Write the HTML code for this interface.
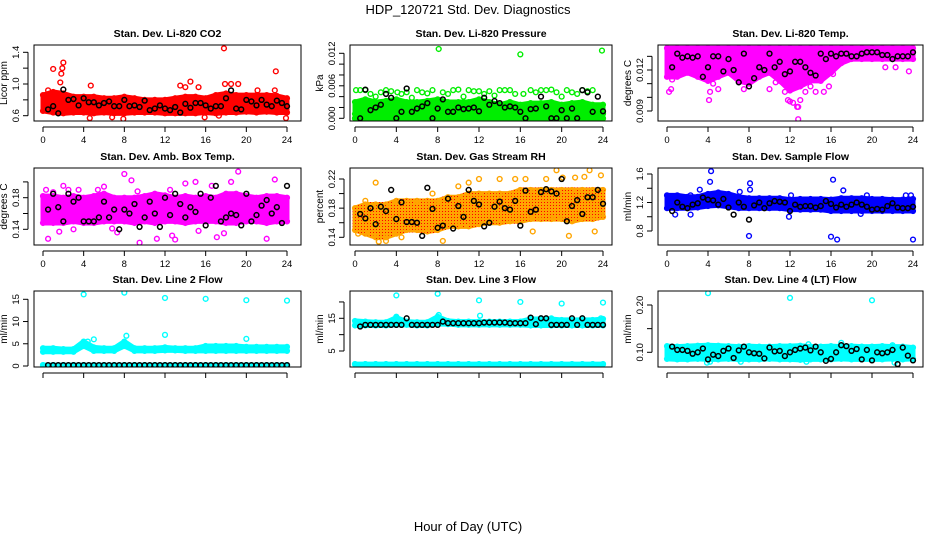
<!DOCTYPE html>
<html><head><meta charset="utf-8"><style>
html,body{margin:0;padding:0;background:#fff;}
svg{display:block;font-family:"Liberation Sans",sans-serif;}
</style></head><body>
<svg id="chart" width="936" height="540" viewBox="0 0 936 540">
<defs>
<pattern id="rhpat" width="3" height="3" patternUnits="userSpaceOnUse"><rect width="3" height="3" fill="#ffa500"/><rect x="1" y="1" width="1" height="1" fill="#ff0000"/></pattern>
</defs>
<text x="468" y="14" text-anchor="middle" font-size="13">HDP_120721  Std. Dev. Diagnostics</text>
<text x="468" y="531" text-anchor="middle" font-size="13">Hour of Day (UTC)</text>
</svg>
<script>
const blackHours=[0.5,1,1.5,2,2.5,3,3.5,4,4.5,5,5.5,6,6.5,7,7.5,8,8.5,9,9.5,10,10.5,11,11.5,12,12.5,13,13.5,14,14.5,15,15.5,16,16.5,17,17.5,18,18.5,19,19.5,20,20.5,21,21.5,22,22.5,23,23.5,24];
const bandHours=[0,1,2,3,4,5,6,7,8,9,10,11,12,13,14,15,16,17,18,19,20,21,22,23,24];
const xTicks=[0,4,8,12,16,20,24];

const co2Lo=[0.66,0.64,0.63,0.64,0.64,0.63,0.64,0.63,0.63,0.64,0.64,0.64,0.63,0.63,0.63,0.63,0.64,0.63,0.64,0.64,0.65,0.64,0.65,0.64,0.64];
const co2Hi=[0.86,0.9,0.88,0.84,0.84,0.84,0.82,0.82,0.84,0.82,0.8,0.8,0.8,0.82,0.84,0.84,0.82,0.86,0.88,0.86,0.86,0.86,0.86,0.85,0.82];
const co2OutHours=[1.0,1.7,1.8,1.9,2.0,4.7,13.5,14,14.5,15.3,17.8,17.9,18.5,19.2,22.9,7.9,23.9,15.9,4.6,6.8,17.3,0.5,21.1,22.8];
const co2OutVals=[1.19,1.02,1.13,1.2,1.27,0.98,0.98,0.96,1.03,0.96,1.45,1.0,1.0,1.0,1.16,0.56,0.57,0.58,0.57,0.58,0.6,0.92,0.92,0.92];
const co2Black=[0.68,0.72,0.63,0.93,0.8,0.81,0.73,0.82,0.77,0.77,0.73,0.76,0.78,0.72,0.72,0.8,0.72,0.73,0.71,0.79,0.67,0.69,0.73,0.69,0.67,0.71,0.64,0.75,0.7,0.76,0.76,0.73,0.69,0.72,0.72,0.82,0.92,0.69,0.68,0.8,0.78,0.73,0.8,0.74,0.72,0.79,0.76,0.72];

const presLo=[0.0008,0.0008,0.0008,0.0008,0.0008,0.0008,0.0008,0.0008,0.0008,0.0008,0.0008,0.0008,0.0008,0.0008,0.0008,0.0008,0.0008,0.0008,0.0008,0.0008,0.0008,0.0008,0.0008,0.0008,0.0008];
const presHi=[0.003,0.0035,0.003,0.0032,0.0035,0.003,0.003,0.0032,0.0035,0.003,0.003,0.003,0.0035,0.003,0.0025,0.003,0.0025,0.0028,0.0028,0.003,0.0025,0.0028,0.003,0.0025,0.0025];
const presZero=[0,0,0,0,0,0,0,0,0,0,0,0,0,0,0,0,0,0,0,0,0,0,0,0,0];
const presOutHours=[0.1,0.5,1,1.5,2,2.5,3,3.5,4.1,4.5,5,5.5,6,6.5,7,7.5,8.1,8.5,9,9.5,10,10.5,11,11.5,12,12.5,13,13.5,14,14.5,15,15.5,16,16.3,17,17.5,18,18.5,19,19.5,20,20.5,21,21.5,22,22.5,23,23.9];
const presOutVals=[0.0052,0.0052,0.0052,0.0045,0.004,0.0048,0.0052,0.005,0.0048,0.0045,0.0048,0.0038,0.0052,0.0048,0.0046,0.0052,0.0128,0.0048,0.0045,0.0052,0.0053,0.004,0.0052,0.005,0.005,0.0045,0.005,0.0042,0.0052,0.0052,0.0052,0.0045,0.0118,0.0045,0.0052,0.0048,0.0052,0.0052,0.0053,0.0048,0.004,0.0052,0.0048,0.0045,0.0052,0.005,0.0052,0.0125];
const presBlack=[0,0.0053,0.0015,0.002,0.0025,0.0045,0.0038,0,0.0012,0.0055,0.0012,0.0018,0.0022,0.0028,0,0.0018,0.0035,0.0012,0.0012,0.002,0.0017,0.0018,0.002,0.0013,0.0038,0.0025,0.0032,0.0028,0.002,0.0022,0.002,0.0012,0,0.0017,0.0018,0.004,0.0022,0,0,0.0015,0,0.0018,0,0.0052,0.0048,0.0012,0.004,0.0013];

const tempLo=[0.0115,0.0115,0.0118,0.0115,0.0112,0.0115,0.0118,0.0112,0.011,0.0115,0.0118,0.0112,0.0105,0.0108,0.0112,0.0112,0.0118,0.0125,0.0128,0.0128,0.0128,0.0128,0.0128,0.0128,0.0128];
const tempHi=[0.0136,0.0136,0.0136,0.0136,0.0136,0.0136,0.0136,0.0136,0.0136,0.0136,0.0136,0.0136,0.0136,0.0136,0.0136,0.0136,0.0136,0.0136,0.0136,0.0136,0.0136,0.0136,0.0136,0.0136,0.0136];
const tempOutHours=[0.2,0.4,0.5,4.1,4.2,4.5,5,7.5,8,10,10.6,11.5,11.8,12,12.3,12.7,12.8,13.0,12.8,13.5,14,14.5,15.3,15.8,16.2,21.3,22.3,23.6];
const tempOutVals=[0.0104,0.0106,0.0113,0.0098,0.0104,0.011,0.0106,0.0106,0.0118,0.0106,0.0111,0.0104,0.0098,0.0097,0.0096,0.0093,0.0093,0.0098,0.0084,0.0104,0.0108,0.0104,0.0104,0.0108,0.0117,0.0122,0.0122,0.0119];
const tempBlack=[0.0122,0.0132,0.0129,0.013,0.0129,0.013,0.0115,0.0122,0.013,0.013,0.0119,0.0128,0.012,0.0111,0.0132,0.0108,0.0114,0.0122,0.012,0.0132,0.0122,0.0126,0.0117,0.0119,0.0126,0.0126,0.0122,0.0118,0.0116,0.0132,0.0128,0.0132,0.013,0.0132,0.0132,0.013,0.013,0.0132,0.0133,0.0133,0.0133,0.0131,0.0131,0.0128,0.013,0.013,0.013,0.0133];

const ambLo=[0.148,0.148,0.148,0.15,0.148,0.148,0.15,0.15,0.15,0.148,0.15,0.148,0.15,0.15,0.148,0.15,0.15,0.15,0.148,0.148,0.15,0.15,0.148,0.15,0.15];
const ambHi=[0.182,0.182,0.18,0.182,0.18,0.182,0.185,0.18,0.18,0.18,0.182,0.185,0.183,0.18,0.182,0.18,0.182,0.18,0.185,0.185,0.182,0.18,0.182,0.182,0.18];
const ambOutHours=[0.3,0.5,1,1.6,2,2.5,3,3.5,4.5,5.4,6,6.8,7.3,8,8.7,9.3,9.5,10.5,11.2,12.5,12.7,13,14,15,15.3,16.6,17.1,17.8,18.5,19.2,20,22,22.8,23.5];
const ambOutVals=[0.19,0.128,0.187,0.137,0.195,0.19,0.14,0.19,0.18,0.19,0.194,0.141,0.136,0.21,0.202,0.188,0.123,0.18,0.128,0.19,0.132,0.127,0.198,0.2,0.138,0.195,0.13,0.135,0.2,0.213,0.18,0.128,0.203,0.15];
const ambBlack=[0.165,0.185,0.168,0.15,0.185,0.175,0.18,0.15,0.15,0.15,0.155,0.175,0.155,0.165,0.14,0.165,0.16,0.172,0.143,0.155,0.175,0.16,0.143,0.18,0.158,0.185,0.172,0.155,0.168,0.162,0.185,0.145,0.18,0.195,0.15,0.155,0.16,0.158,0.145,0.185,0.15,0.158,0.17,0.177,0.16,0.168,0.148,0.195];

const rhLo=[0.15,0.145,0.14,0.14,0.145,0.15,0.15,0.148,0.15,0.155,0.155,0.155,0.158,0.16,0.16,0.162,0.162,0.165,0.165,0.165,0.165,0.162,0.165,0.165,0.168];
const rhHi=[0.18,0.185,0.185,0.185,0.19,0.19,0.19,0.19,0.19,0.195,0.195,0.2,0.2,0.2,0.2,0.2,0.205,0.205,0.205,0.205,0.205,0.205,0.205,0.205,0.205];
const rhOutHours=[0.3,1,2,2.3,3,4.5,7.5,8.5,10,11,12,14,15.5,16.5,17.2,18.5,19.5,20.1,20.7,21.3,22.2,22.7,23.2,23.8];
const rhOutVals=[0.145,0.19,0.215,0.134,0.135,0.14,0.2,0.135,0.21,0.215,0.22,0.22,0.22,0.22,0.148,0.22,0.232,0.222,0.142,0.222,0.223,0.232,0.148,0.225];
const rhBlack=[0.172,0.166,0.18,0.158,0.182,0.176,0.205,0.165,0.188,0.161,0.161,0.16,0.142,0.208,0.179,0.153,0.156,0.193,0.152,0.183,0.168,0.205,0.19,0.185,0.155,0.16,0.182,0.189,0.18,0.178,0.19,0.156,0.204,0.175,0.178,0.202,0.206,0.203,0.2,0.22,0.162,0.183,0.191,0.172,0.195,0.195,0.205,0.186];

const sfLo=[1.12,1.12,1.12,1.13,1.15,1.16,1.14,1.12,1.12,1.12,1.12,1.12,1.1,1.1,1.1,1.1,1.08,1.08,1.08,1.08,1.08,1.08,1.08,1.08,1.08];
const sfHi=[1.3,1.3,1.28,1.28,1.32,1.34,1.32,1.28,1.26,1.26,1.26,1.26,1.24,1.25,1.25,1.25,1.24,1.26,1.26,1.26,1.25,1.25,1.24,1.24,1.25];
const sfOutHours=[0.8,2.3,2.3,3.2,4.2,4.3,7.1,7.7,8,8.1,8.1,11.9,12.1,16,16.2,16.6,17.2,18.9,19.5,23.3,23.8,24];
const sfOutVals=[1.03,1.03,1.3,1.38,1.49,1.64,1.35,1.25,0.73,1.47,1.38,1.0,1.3,0.72,1.52,0.68,1.37,1.04,1.3,1.3,1.3,0.68];
const sfBlack=[1.08,1.2,1.14,1.12,1.17,1.19,1.27,1.24,1.23,1.17,1.25,1.13,1.03,1.2,1.14,0.96,1.16,1.2,1.12,1.19,1.22,1.21,1.2,1.08,1.17,1.14,1.15,1.15,1.13,1.15,1.22,1.18,1.13,1.17,1.14,1.17,1.2,1.17,1.14,1.1,1.11,1.1,1.15,1.19,1.13,1.12,1.12,1.14];

const l2Lo=[3.2,3.2,3.2,3.2,4.5,3.4,3.4,3.4,4.5,3.4,3.4,3.4,3.5,3.5,3.4,3.4,3.4,3.4,3.4,3.4,3.4,3.4,3.4,3.4,3.4];
const l2Hi=[4,4,3.8,3.8,5.5,4.2,4,4,5.5,4,4,4,4.2,4,4,4,4.5,4.5,4.5,4.5,4.3,4.3,4.3,4.3,4.3];
const l2Zero=[0.2,0.2,0.2,0.2,0.2,0.2,0.2,0.2,0.2,0.2,0.2,0.2,0.2,0.2,0.2,0.2,0.2,0.2,0.2,0.2,0.2,0.2,0.2,0.2,0.2];
const l2OutHours=[4,4.4,5,8,8.2,12,12,16,20,20,24];
const l2OutVals=[16.1,5.5,6,16.5,6.8,15.3,7,15.1,14.8,6.1,14.7];
const l2Black=[0.2,0.2,0.2,0.2,0.2,0.2,0.2,0.2,0.2,0.2,0.2,0.2,0.2,0.2,0.2,0.2,0.2,0.2,0.2,0.2,0.2,0.2,0.2,0.2,0.2,0.2,0.2,0.2,0.2,0.2,0.2,0.2,0.2,0.2,0.2,0.2,0.2,0.2,0.2,0.2,0.2,0.2,0.2,0.2,0.2,0.2,0.2,0.2];

const l3Lo=[12.8,12.8,12.8,12.8,13,13,12.8,12.8,13.2,13.2,13,13,13,13,13,13,13,12.8,12.8,12.8,12.8,12.8,12.8,12.8,12.8];
const l3Hi=[14.2,14,13.8,13.8,15.2,14,13.8,13.8,15.5,14.2,14,14,14,14,14,14,14,14.8,14.8,14.8,14.5,14.5,14.5,14.5,14.8];
const l3Zero=[1,1,1,1,1,1,1,1,1,1,1,1,1,1,1,1,1,1,1,1,1,1,1,1,1];
const l3OutHours=[4,4,8,8.1,12,12.1,16,20,24,17,18,19,22,23.8];
const l3OutVals=[22,15.5,22.5,16,20.5,15.8,20,19.5,19.8,15,15,15,15,15];
const l3Black=[12.5,13,13,13,13,13,13,13,13,15,13,13,13,13,13,13,14,13.5,13.5,13.5,13.5,13.5,13.5,13.5,13.7,13.7,13.7,13.7,13.7,13.5,13.5,13.5,13.5,15.2,13.2,15,15,13,13,13,13,15,13,15,13,13,13,13];

const l4Lo=[0.086,0.085,0.085,0.086,0.085,0.085,0.086,0.085,0.085,0.085,0.086,0.085,0.085,0.084,0.085,0.085,0.085,0.086,0.085,0.085,0.085,0.085,0.086,0.085,0.086];
const l4Hi=[0.113,0.112,0.113,0.114,0.115,0.114,0.113,0.112,0.113,0.112,0.112,0.113,0.113,0.114,0.112,0.112,0.113,0.112,0.113,0.112,0.112,0.113,0.112,0.112,0.11];
const l4OutHours=[4,4.2,3.9,7.2,12,13.6,13.8,17,20,22,22.2];
const l4OutVals=[0.225,0.08,0.078,0.08,0.215,0.08,0.117,0.12,0.21,0.115,0.078];
const l4Black=[0.112,0.105,0.105,0.103,0.097,0.1,0.108,0.085,0.095,0.092,0.103,0.108,0.088,0.104,0.112,0.1,0.098,0.097,0.087,0.11,0.102,0.103,0.092,0.1,0.105,0.108,0.11,0.104,0.112,0.1,0.082,0.086,0.1,0.115,0.113,0.103,0.107,0.085,0.105,0.083,0.1,0.098,0.1,0.105,0.075,0.11,0.093,0.083];

const NS='http://www.w3.org/2000/svg';
const svg=document.getElementById('chart');
function mk(tag,attrs,parent){const e=document.createElementNS(NS,tag);for(const k in attrs)e.setAttribute(k,attrs[k]);(parent||svg).appendChild(e);return e;}

const cols=[{l:34,r:301,x0:43,x24:287},{l:350,r:612,x0:355,x24:603},{l:658,r:923,x0:667,x24:913}];
const rows=[{t:45,b:121,labels:true},{t:168,b:245,labels:true},{t:291,b:367,labels:false}];

const panels=[
 {name:'co2',title:'Stan. Dev. Li-820 CO2',ylab:'Licor ppm',c:0,r:0,color:'#ff0000',fill:'#ff0000',ya:0.6,pa:115.7,yb:1.4,pb:52.3,ticks:[0.6,0.8,1.0,1.2,1.4],tl:['0.6','','1.0','','1.4'],bands:[[co2Lo,co2Hi]],oh:co2OutHours,ov:co2OutVals,bk:co2Black},
 {name:'pressure',title:'Stan. Dev. Li-820 Pressure',ylab:'kPa',c:1,r:0,color:'#00ee00',fill:'#00ee00',ya:0,pa:118.3,yb:0.012,pb:53.3,ticks:[0,0.002,0.004,0.006,0.008,0.01,0.012],tl:['0.000','','','0.006','','','0.012'],bands:[[presLo,presHi],[presZero,presZero]],oh:presOutHours,ov:presOutVals,bk:presBlack},
 {name:'li820-temp',title:'Stan. Dev. Li-820 Temp.',ylab:'degrees C',c:2,r:0,color:'#ff00ff',fill:'#ff00ff',ya:0.009,pa:111,yb:0.012,pb:70,ticks:[0.009,0.01,0.011,0.012,0.013],tl:['0.009','','','0.012',''],bands:[[tempLo,tempHi]],oh:tempOutHours,ov:tempOutVals,bk:tempBlack},
 {name:'amb-box-temp',title:'Stan. Dev. Amb. Box Temp.',ylab:'degrees C',c:0,r:1,color:'#ff00ff',fill:'#ff00ff',ya:0.14,pa:229.3,yb:0.18,pb:197.7,ticks:[0.14,0.16,0.18,0.2],tl:['0.14','','0.18',''],bands:[[ambLo,ambHi]],oh:ambOutHours,ov:ambOutVals,bk:ambBlack},
 {name:'gas-stream-rh',title:'Stan. Dev. Gas Stream RH',ylab:'percent',c:1,r:1,color:'#ffa500',fill:'url(#rhpat)',ya:0.14,pa:237.3,yb:0.22,pb:179,ticks:[0.14,0.16,0.18,0.2,0.22],tl:['0.14','','0.18','','0.22'],bands:[[rhLo,rhHi]],oh:rhOutHours,ov:rhOutVals,bk:rhBlack},
 {name:'sample-flow',title:'Stan. Dev. Sample Flow',ylab:'ml/min',c:2,r:1,color:'#0000ff',fill:'#0000ff',ya:0.8,pa:231,yb:1.6,pb:174,ticks:[0.8,1.0,1.2,1.4,1.6],tl:['0.8','','1.2','','1.6'],bands:[[sfLo,sfHi]],oh:sfOutHours,ov:sfOutVals,bk:sfBlack},
 {name:'line2-flow',title:'Stan. Dev. Line 2 Flow',ylab:'ml/min',c:0,r:2,color:'#00ffff',fill:'#00ffff',ya:0,pa:366,yb:15,pb:299.3,ticks:[0,5,10,15],tl:['0','5','10','15'],bands:[[l2Lo,l2Hi],[l2Zero,l2Zero]],oh:l2OutHours,ov:l2OutVals,bk:l2Black},
 {name:'line3-flow',title:'Stan. Dev. Line 3 Flow',ylab:'ml/min',c:1,r:2,color:'#00ffff',fill:'#00ffff',ya:5,pa:351,yb:15,pb:318.3,ticks:[5,10,15,20],tl:['5','','15',''],bands:[[l3Lo,l3Hi],[l3Zero,l3Zero]],oh:l3OutHours,ov:l3OutVals,bk:l3Black},
 {name:'line4-flow',title:'Stan. Dev. Line 4 (LT) Flow',ylab:'ml/min',c:2,r:2,color:'#00ffff',fill:'#00ffff',ya:0.1,pa:352.3,yb:0.2,pb:305,ticks:[0.1,0.15,0.2],tl:['0.10','','0.20'],bands:[[l4Lo,l4Hi]],oh:l4OutHours,ov:l4OutVals,bk:l4Black}
];

panels.forEach((p,i)=>{
  const C=cols[p.c],R=rows[p.r];
  const xs=h=>C.x0+(h/24)*(C.x24-C.x0);
  const ys=v=>p.pa+(v-p.ya)*(p.pb-p.pa)/(p.yb-p.ya);
  const g=mk('g',{});
  
  
  const cid='clip'+i;
  const cp=mk('clipPath',{id:cid},g);mk('rect',{x:C.l,y:R.t,width:C.r-C.l,height:R.b-R.t},cp);
  const plot=mk('g',{'clip-path':'url(#'+cid+')'},g);
  
  
  p.bands.forEach(([lo,hi])=>{
    let pts=bandHours.map((h,k)=>xs(h)+','+ys(hi[k]));
    pts=pts.concat(bandHours.slice().reverse().map((h,k)=>xs(h)+','+ys(lo[lo.length-1-k])));
    const band=mk('polygon',{points:pts.join(' '),fill:p.fill,stroke:p.fill,'stroke-width':5,'stroke-linejoin':'round'},plot);
    
    
    bandHours.forEach((h,k)=>{[lo[k],hi[k]].forEach(v=>{
      const c=mk('circle',{cx:xs(h),cy:ys(v),r:2.4,fill:'none',stroke:p.color,'stroke-width':1.4},plot);
      
      
    });});
  });
  p.oh.forEach((h,k)=>{
    const c=mk('circle',{cx:xs(h),cy:ys(p.ov[k]),r:2.4,fill:'none',stroke:p.color,'stroke-width':1.4},plot);
    
    
  });
  blackHours.forEach((h,k)=>{
    const c=mk('circle',{cx:xs(h),cy:ys(p.bk[k]),r:2.4,fill:'none',stroke:'#000','stroke-width':1.5},plot);
    
    
  });
  const box=mk('rect',{x:C.l,y:R.t,width:C.r-C.l,height:R.b-R.t,fill:'none',stroke:'#000','stroke-width':1},g);
  
  
  const t=mk('text',{x:(C.l+C.r)/2,y:R.t-8,'text-anchor':'middle','font-size':10.5,'font-weight':'bold'},g);
  t.textContent=p.title;
  
  
  const xa=R.b+6;
  mk('line',{x1:C.x0,x2:C.x24,y1:xa,y2:xa,stroke:'#000'},g);
  xTicks.forEach(h=>{
    mk('line',{x1:xs(h),x2:xs(h),y1:xa,y2:xa+5,stroke:'#000'},g);
    if(R.labels){const tl=mk('text',{x:xs(h),y:xa+16,'text-anchor':'middle','font-size':9.5},g);tl.textContent=h;
      
      }
  });
  const yx=C.l-6;
  mk('line',{x1:yx,x2:yx,y1:ys(p.ticks[0]),y2:ys(p.ticks[p.ticks.length-1]),stroke:'#000'},g);
  p.ticks.forEach((v,k)=>{
    mk('line',{x1:yx,x2:yx-5,y1:ys(v),y2:ys(v),stroke:'#000'},g);
    if(p.tl[k]){const tx=yx-9;const tl=mk('text',{x:tx,y:ys(v),'text-anchor':'middle','font-size':9.5,transform:'rotate(-90 '+tx+' '+ys(v)+')'},g);tl.textContent=p.tl[k];
      
      }
  });
  const lx=C.l-27, ly=(R.t+R.b)/2;
  const yl=mk('text',{x:lx,y:ly,'text-anchor':'middle','font-size':10,transform:'rotate(-90 '+lx+' '+ly+')'},g);
  yl.textContent=p.ylab;
  
  
});
</script>
</body></html>
